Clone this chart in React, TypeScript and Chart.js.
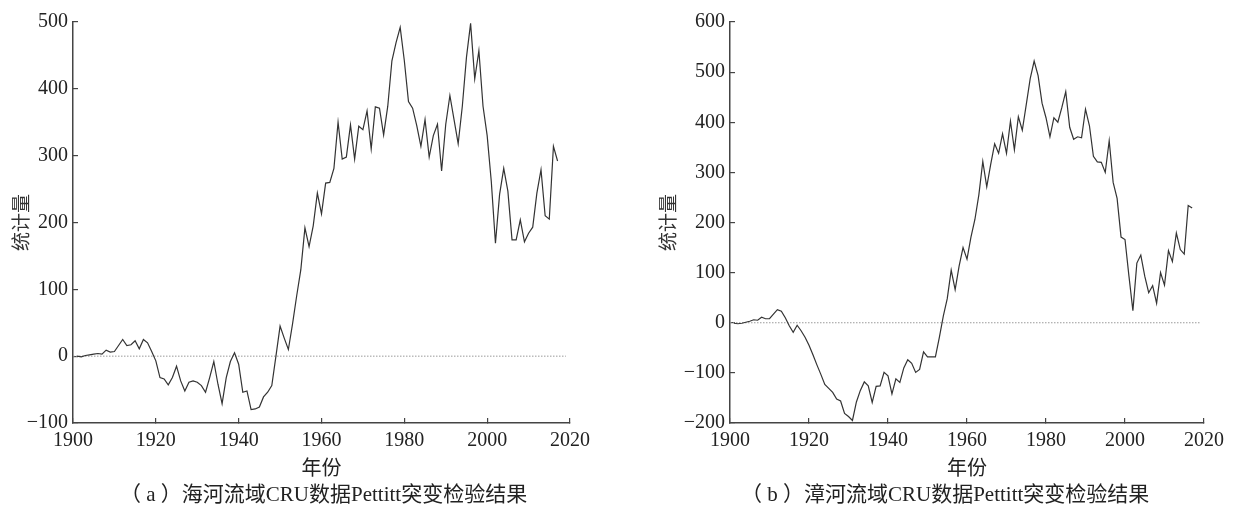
import React, { useEffect, useRef } from "react";
import { Chart, registerables } from "chart.js";

Chart.register(...registerables);

// Years 1901–2017
const YEARS: number[] = Array.from({ length: 117 }, (_, i) => 1901 + i);

// (a) 海河流域 Pettitt statistic
const HAIHE_VALUES: number[] = [
  0, -1, 1, 2, 3, 4, 3, 9, 6, 7, // 1901-1910
  16, 25, 16, 17, 23, 11, 25, 20, 7, -7, // 1911-1920
  -32, -34, -43, -32, -15, -37, -52, -39, -37, -39, // 1921-1930
  -44, -54, -32, -8, -42, -71, -32, -8, 5, -12, // 1931-1940
  -54, -52, -80, -79, -76, -61, -54, -44, 0, 45, // 1941-1950
  27, 10, 48, 90, 129, 192, 164, 195, 244, 213, // 1951-1960
  259, 260, 281, 350, 295, 298, 346, 295, 344, 339, // 1961-1970
  367, 310, 373, 371, 331, 374, 442, 469, 492, 442, // 1971-1980
  381, 371, 345, 314, 354, 298, 330, 347, 277, 347, // 1981-1990
  390, 354, 318, 374, 447, 498, 415, 457, 374, 330, // 1991-2000
  261, 169, 242, 281, 247, 174, 174, 204, 171, 184, // 2001-2010
  193, 244, 279, 210, 205, 314, 292, // 2011-2017
];

// (b) 漳河流域 Pettitt statistic
const ZHANGHE_VALUES: number[] = [
  -1, -2, -1, 1, 3, 6, 5, 11, 8, 8, // 1901-1910
  17, 26, 23, 10, -6, -19, -5, -16, -29, -45, // 1911-1920
  -64, -84, -103, -123, -131, -139, -152, -156, -181, -187, // 1921-1930
  -195, -158, -135, -118, -126, -159, -127, -126, -99, -106, // 1931-1940
  -142, -112, -119, -90, -74, -81, -99, -93, -58, -68, // 1941-1950
  -68, -68, -29, 13, 48, 105, 66, 113, 150, 127, // 1951-1960
  171, 206, 255, 322, 271, 316, 357, 338, 377, 338, // 1961-1970
  402, 345, 411, 384, 435, 487, 522, 493, 438, 409, // 1971-1980
  371, 409, 400, 429, 461, 390, 366, 371, 369, 426, // 1981-1990
  393, 332, 321, 320, 300, 363, 280, 248, 171, 166, // 1991-2000
  93, 24, 119, 135, 93, 60, 74, 39, 100, 75, // 2001-2010
  144, 122, 179, 146, 137, 234, 229, // 2011-2017
];

const ZERO_LINE_YEARS: number[] = [1900, 2019];
const X_MIN = 1900;
const X_MAX = 2020;
const X_STEP = 20;

const Y_TITLE = "统计量";
const X_TITLE = "年份";
const CAPTION_A = "（ a ）海河流域CRU数据Pettitt突变检验结果";
const CAPTION_B = "（ b ）漳河流域CRU数据Pettitt突变检验结果";

const FONT = "'Liberation Serif', 'Noto Sans CJK SC', serif";
const AXIS_COLOR = "#444";

type Cfg = {
  values: number[];
  yMin: number;
  yMax: number;
  left: number;
  yAxisWidth: number;
  padRight: number;
  yTitlePad: number;
};

function PettittChart({ cfg }: { cfg: Cfg }) {
  const ref = useRef<HTMLCanvasElement>(null);
  useEffect(() => {
    const canvas = ref.current!;
    const chart = new Chart(canvas, {
      type: "line",
      data: {
        datasets: [
          {
            data: YEARS.map((yr, i) => ({ x: yr, y: cfg.values[i] })),
            borderColor: "#333",
            borderWidth: 1.2,
            pointRadius: 0,
            tension: 0,
            fill: false,
          },
          {
            data: ZERO_LINE_YEARS.map((yr) => ({ x: yr, y: 0 })),
            borderColor: "#9a9a9a",
            borderWidth: 1,
            borderDash: [1.5, 1.5],
            pointRadius: 0,
            fill: false,
          },
        ],
      },
      options: {
        responsive: false,
        maintainAspectRatio: false,
        animation: false,
        devicePixelRatio: 1,
        layout: { padding: { top: 13, right: cfg.padRight, left: 0, bottom: 0 } },
        plugins: { legend: { display: false }, tooltip: { enabled: false } },
        scales: {
          x: {
            type: "linear",
            min: X_MIN,
            max: X_MAX,
            afterFit: (s: any) => {
              s.height = 89;
            },
            ticks: {
              stepSize: X_STEP,
              autoSkip: false,
              maxRotation: 0,
              padding: 11,
              color: "#222",
              font: { family: FONT, size: 20 },
              callback: (v: any) => String(v),
            },
            grid: {
              drawOnChartArea: false,
              drawTicks: true,
              tickLength: -5,
              color: AXIS_COLOR,
              lineWidth: 1.2,
            },
            border: { display: true, color: AXIS_COLOR, width: 1.5 },
            title: {
              display: true,
              text: X_TITLE,
              color: "#222",
              font: { family: FONT, size: 20 },
              padding: { top: 0, bottom: 30 },
            },
          },
          y: {
            type: "linear",
            min: cfg.yMin,
            max: cfg.yMax,
            afterFit: (s: any) => {
              s.width = cfg.yAxisWidth;
            },
            ticks: {
              stepSize: 100,
              autoSkip: false,
              padding: 10,
              color: "#222",
              font: { family: FONT, size: 20 },
              callback: (v: any) => (Number(v) < 0 ? "\u2212" + Math.abs(Number(v)) : String(v)),
            },
            grid: {
              drawOnChartArea: false,
              drawTicks: true,
              tickLength: -5,
              color: AXIS_COLOR,
              lineWidth: 1.2,
            },
            border: { display: true, color: AXIS_COLOR, width: 1.5 },
            title: {
              display: true,
              text: Y_TITLE,
              color: "#333",
              font: { family: FONT, size: 19 },
              padding: { top: cfg.yTitlePad, bottom: 0 },
            },
          },
        },
      } as any,
    });
    return () => chart.destroy();
  }, [cfg]);
  return (
    <canvas
      ref={ref}
      width={618}
      height={512}
      style={{ position: "absolute", left: cfg.left, top: 0, width: 618, height: 512 }}
    />
  );
}

const CFG_A: Cfg = {
  values: HAIHE_VALUES,
  yMin: -100,
  yMax: 500,
  left: 0,
  yAxisWidth: 73,
  padRight: 48,
  yTitlePad: 12,
};

const CFG_B: Cfg = {
  values: ZHANGHE_VALUES,
  yMin: -200,
  yMax: 600,
  left: 618,
  yAxisWidth: 112,
  padRight: 32,
  yTitlePad: 41,
};

const captionStyle: React.CSSProperties = {
  position: "absolute",
  top: 482,
  fontFamily: FONT,
  fontSize: 21,
  lineHeight: "25px",
  color: "#222",
  whiteSpace: "pre",
};

export default function App() {
  return (
    <div
      style={{
        position: "fixed",
        left: 0,
        top: 0,
        width: 1236,
        height: 512,
        background: "#fff",
        overflow: "hidden",
      }}
    >
      <PettittChart cfg={CFG_A} />
      <PettittChart cfg={CFG_B} />
      <div style={{ ...captionStyle, left: 120 }}>{CAPTION_A}</div>
      <div style={{ ...captionStyle, left: 741 }}>{CAPTION_B}</div>
    </div>
  );
}
